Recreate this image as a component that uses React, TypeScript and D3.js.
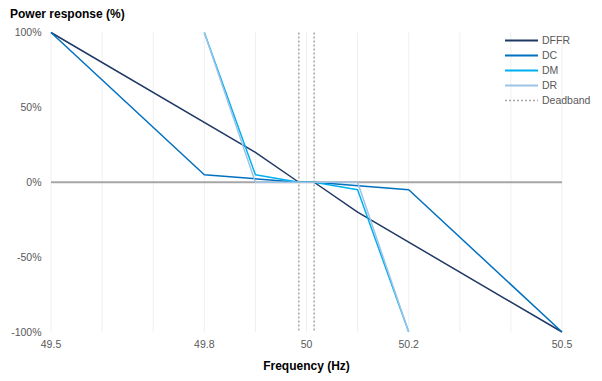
import React from "react";
import * as d3 from "d3";

const xTickLabels = ["49.5", "49.8", "50", "50.2", "50.5"];
const gridFreqs = [49.5, 49.6, 49.7, 49.8, 49.9, 50, 50.1, 50.2, 50.3, 50.4, 50.5];
const yTicks = [100, 50, 0, -50, -100];
const deadband = [49.985, 50.015];

const dffrFreq = [49.5, 49.9, 49.985, 50.015, 50.1, 50.5];
const dffrVal = [100, 20, 0, 0, -20, -100];
const dcFreq = [49.5, 49.8, 49.985, 50.015, 50.2, 50.5];
const dcVal = [100, 5, 0, 0, -5, -100];
const dmFreq = [49.8, 49.9, 49.985, 50.015, 50.1, 50.2];
const dmVal = [100, 5, 0, 0, -5, -100];
const drFreq = [49.8, 49.9, 49.985, 50.015, 50.1, 50.2];
const drVal = [100, 0, 0, 0, 0, -100];

const seriesNames = ["DFFR", "DC", "DM", "DR"];
const seriesColors = ["#1f3864", "#0070c0", "#00b0f0", "#9dc3e6"];

const W = 602;
const H = 381;
const FONT = "'Liberation Sans', Arial, sans-serif";

export default function App() {
  const x = d3.scaleLinear().domain([49.5, 50.5]).range([51, 562]);
  const y = d3.scaleLinear().domain([-100, 100]).range([332, 32.5]);
  const line = d3
    .line<[number, number]>()
    .x((d) => x(d[0]))
    .y((d) => y(d[1]));

  const series = [
    dffrFreq.map((f, i) => [f, dffrVal[i]] as [number, number]),
    dcFreq.map((f, i) => [f, dcVal[i]] as [number, number]),
    dmFreq.map((f, i) => [f, dmVal[i]] as [number, number]),
    drFreq.map((f, i) => [f, drVal[i]] as [number, number]),
  ];

  const legendItems = [
    ...seriesNames.map((n, i) => ({ name: n, color: seriesColors[i], dash: undefined as string | undefined })),
    { name: "Deadband", color: "#a6a6a6", dash: "2,2" },
  ];

  return (
    <svg
      width={W}
      height={H}
      style={{ position: "absolute", left: 0, top: 0, background: "#fff" }}
      fontFamily={FONT}
    >
      {gridFreqs.map((f) => (
        <line key={f} x1={x(f)} x2={x(f)} y1={y(100)} y2={y(-100)} stroke="#efefef" strokeWidth={1} />
      ))}
      <line x1={x(49.5)} x2={x(50.5)} y1={y(0)} y2={y(0)} stroke="#a6a6a6" strokeWidth={2} />
      {series.map((s, i) => (
        <path key={i} d={line(s) || ""} fill="none" stroke={seriesColors[i]} strokeWidth={1.5} strokeLinejoin="round" />
      ))}
      {deadband.map((f) => (
        <line key={f} x1={x(f)} x2={x(f)} y1={y(100)} y2={y(-100)} stroke="#a6a6a6" strokeWidth={1.5} strokeDasharray="2,2" />
      ))}
      {yTicks.map((t) => (
        <text key={t} x={41.5} y={y(t)} dy="0.35em" textAnchor="end" fontSize={10.5} fill="#595959">
          {t + "%"}
        </text>
      ))}
      {xTickLabels.map((t) => (
        <text key={t} x={x(+t)} y={348} textAnchor="middle" fontSize={10.5} fill="#595959">
          {t}
        </text>
      ))}
      <text x={10} y={18} fontSize={12} fontWeight="bold" fill="#000">
        Power response (%)
      </text>
      <text x={x(50)} y={370} textAnchor="middle" fontSize={12} fontWeight="bold" fill="#000">
        Frequency (Hz)
      </text>
      {legendItems.map((it, i) => {
        const ly = 40.5 + i * 15;
        return (
          <g key={it.name}>
            <line x1={505} x2={538} y1={ly} y2={ly} stroke={it.color} strokeWidth={it.dash ? 1.5 : 2} strokeDasharray={it.dash} />
            <text x={542} y={ly} dy="0.35em" fontSize={10.5} fill="#595959">
              {it.name}
            </text>
          </g>
        );
      })}
    </svg>
  );
}
